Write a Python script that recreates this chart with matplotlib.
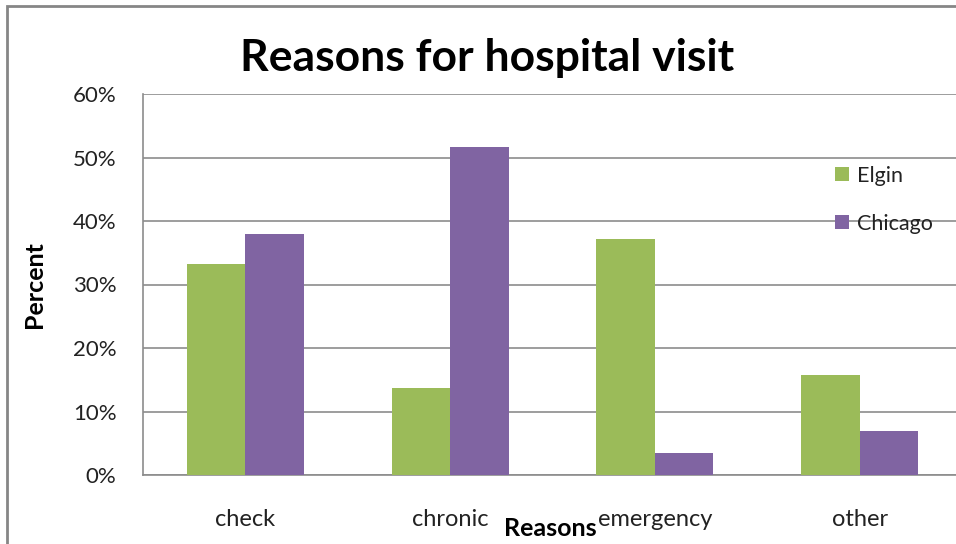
import matplotlib
matplotlib.use('Agg')
import matplotlib.pyplot as plt
from matplotlib.patches import Rectangle
from matplotlib.ticker import PercentFormatter
import numpy as np

reasons = ['check', 'chronic', 'emergency', 'other']
elgin = [33.3, 13.7, 37.2, 15.8]
chicago = [38.0, 51.7, 3.5, 6.9]
y_ticks = [0, 10, 20, 30, 40, 50, 60]

plt.rcParams['font.family'] = ['Lato', 'DejaVu Sans']

fig = plt.figure(figsize=(9.56, 5.44), dpi=100)
ax = fig.add_axes([143 / 956, 69 / 544, 819 / 956, 381 / 544])

x = np.arange(len(reasons))
width = 0.286
ax.bar(x - width / 2, elgin, width, color='#9BBB59', label='Elgin', zorder=3)
ax.bar(x + width / 2, chicago, width, color='#8064A2', label='Chicago', zorder=3)

ax.set_xlim(-0.5, len(reasons) - 0.5)
ax.set_ylim(0, 60)
ax.set_yticks(y_ticks)
ax.yaxis.set_major_formatter(PercentFormatter(decimals=0))
ax.set_xticks(x, reasons)
ax.tick_params(axis='both', length=0, colors='#222222')
ax.tick_params(axis='x', pad=24.5, labelsize=17)
ax.tick_params(axis='y', pad=19, labelsize=16)
ax.grid(axis='y', color='#8c8c8c', linewidth=1.2, zorder=0)
for side in ['top', 'right']:
    ax.spines[side].set_visible(False)
for side in ['left', 'bottom']:
    ax.spines[side].set_color('#8c8c8c')
    ax.spines[side].set_linewidth(1.2)

ax.legend(loc='upper left', bbox_to_anchor=(826 / 956, 1 - 157 / 544),
          bbox_transform=fig.transFigure, frameon=False, fontsize=15.5,
          borderaxespad=0, handlelength=0.65, handleheight=0.65,
          handletextpad=0.4, labelspacing=1.3, labelcolor='#222222')

fig.text(487 / 956, 1 - 58 / 544, 'Reasons for hospital visit', ha='center', va='center',
         fontsize=32, fontweight='bold', color='black')
fig.text(35 / 956, 1 - 285 / 544, 'Percent', ha='center', va='center', rotation=90,
         fontsize=18, fontweight='bold', color='black')
fig.text(550 / 956, 1 - 529 / 544, 'Reasons', ha='center', va='center',
         fontsize=18, fontweight='bold', color='black')

# chart frame, only left and top edges fall inside the image
fig.patches.append(Rectangle((7 / 956, -0.1), 1.2, 1.1 - 6 / 544, transform=fig.transFigure,
                             fill=False, edgecolor='#868686', linewidth=2, figure=fig))

fig.savefig('out.png', dpi=100)
